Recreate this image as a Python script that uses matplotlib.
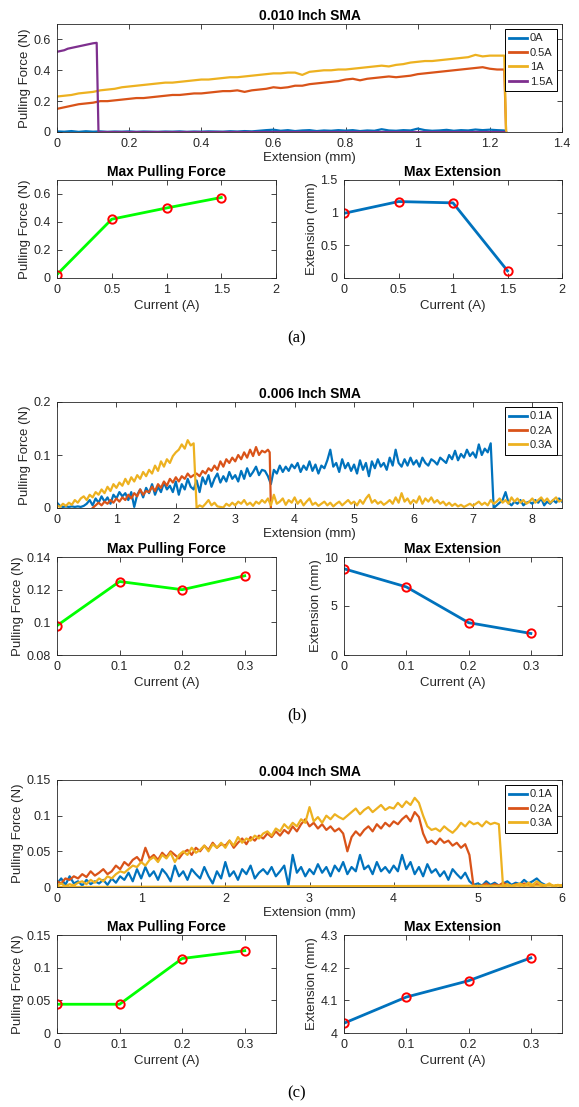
import numpy as np
import matplotlib
matplotlib.use("Agg")
import matplotlib.pyplot as plt
from matplotlib.ticker import FuncFormatter

plt.rcParams["font.family"] = ["Liberation Sans", "DejaVu Sans"]

# ---------------- (a) 0.010 inch SMA ----------------
a_x = np.round(np.arange(0, 1.2401, 0.02), 3)
a_0A = [0.004, 0.002, 0.006, 0.001, 0.005, 0.002, 0.004, 0.001, 0.003, 0.002,
        0.004, 0.001, 0.003, 0.002, 0.001, 0.003, 0.002, 0.004, 0.001, 0.003,
        0.002, 0.004, 0.003, 0.002, 0.005, 0.003, 0.006, 0.004, 0.008, 0.012,
        0.015, 0.008, 0.012, 0.006, 0.010, 0.012, 0.006, 0.010, 0.008, 0.012,
        0.009, 0.012, 0.006, 0.010, 0.008, 0.018, 0.010, 0.008, 0.012, 0.010,
        0.022, 0.012, 0.008, 0.010, 0.014, 0.008, 0.012, 0.010, 0.016, 0.012,
        0.015, 0.012, 0.010]
a_05A = [0.150, 0.160, 0.170, 0.180, 0.185, 0.190, 0.200, 0.200, 0.205, 0.210,
         0.215, 0.220, 0.220, 0.225, 0.230, 0.235, 0.240, 0.240, 0.245, 0.250,
         0.250, 0.255, 0.260, 0.265, 0.265, 0.270, 0.260, 0.270, 0.275, 0.280,
         0.290, 0.285, 0.290, 0.300, 0.300, 0.310, 0.315, 0.320, 0.325, 0.330,
         0.340, 0.345, 0.335, 0.345, 0.350, 0.355, 0.360, 0.355, 0.360, 0.365,
         0.375, 0.380, 0.385, 0.390, 0.395, 0.400, 0.405, 0.410, 0.415, 0.420,
         0.410, 0.405, 0.405]
a_1A = [0.230, 0.235, 0.240, 0.250, 0.255, 0.260, 0.270, 0.275, 0.280, 0.290,
        0.295, 0.300, 0.305, 0.310, 0.315, 0.320, 0.320, 0.325, 0.330, 0.335,
        0.340, 0.340, 0.345, 0.350, 0.355, 0.355, 0.360, 0.365, 0.370, 0.375,
        0.380, 0.380, 0.385, 0.385, 0.370, 0.390, 0.395, 0.400, 0.400, 0.405,
        0.405, 0.410, 0.415, 0.420, 0.425, 0.430, 0.425, 0.435, 0.440, 0.450,
        0.455, 0.460, 0.460, 0.465, 0.470, 0.475, 0.480, 0.485, 0.500, 0.490,
        0.495, 0.495, 0.495]
a_15A_x = [0.0, 0.01, 0.02, 0.03, 0.04, 0.05, 0.06, 0.07, 0.08, 0.09, 0.10, 0.11, 0.115, 1.24]
a_15A = [0.520, 0.525, 0.530, 0.540, 0.545, 0.550, 0.555, 0.560, 0.565, 0.570, 0.575, 0.578, 0.0, 0.0]
a_current = [0, 0.5, 1, 1.5]
a_maxforce = [0.025, 0.42, 0.50, 0.575]
a_maxext = [0.99, 1.17, 1.15, 0.11]
a_labels = ["0A", "0.5A", "1A", "1.5A"]

# ---------------- (b) 0.006 inch SMA ----------------
b_x = np.round(np.arange(0, 8.5001, 0.05), 3)
b_01A = [0.010, 0.004, 0.002, 0.003, 0.002, 0.003, 0.002, 0.003, 0.002, 0.004,
         0.008, 0.015, 0.005, 0.018, 0.010, 0.022, 0.012, 0.020, 0.008, 0.025,
         0.018, 0.030, 0.022, 0.028, 0.015, 0.030, 0.002, 0.025, 0.035, 0.020,
         0.038, 0.028, 0.045, 0.025, 0.040, 0.030, 0.048, 0.035, 0.042, 0.030,
         0.050, 0.025, 0.045, 0.035, 0.055, 0.040, 0.035, 0.052, 0.030, 0.058,
         0.045, 0.062, 0.040, 0.055, 0.065, 0.048, 0.060, 0.050, 0.068, 0.055,
         0.062, 0.050, 0.070, 0.055, 0.075, 0.060, 0.068, 0.078, 0.062, 0.072,
         0.070, 0.060, 0.045, 0.072, 0.065, 0.080, 0.068, 0.078, 0.070, 0.082,
         0.075, 0.085, 0.068, 0.080, 0.072, 0.088, 0.070, 0.082, 0.065, 0.080,
         0.075, 0.090, 0.110, 0.078, 0.085, 0.068, 0.092, 0.075, 0.085, 0.070,
         0.082, 0.065, 0.090, 0.072, 0.085, 0.060, 0.088, 0.075, 0.092, 0.078,
         0.085, 0.072, 0.095, 0.080, 0.110, 0.085, 0.078, 0.092, 0.080, 0.095,
         0.082, 0.090, 0.078, 0.095, 0.085, 0.080, 0.092, 0.088, 0.082, 0.095,
         0.090, 0.085, 0.100, 0.092, 0.108, 0.090, 0.102, 0.095, 0.110, 0.098,
         0.105, 0.095, 0.120, 0.100, 0.112, 0.105, 0.122, 0.000, 0.005, 0.010,
         0.015, 0.030, 0.010, 0.005, 0.012, 0.008, 0.015, 0.005, 0.010, 0.012,
         0.008, 0.015, 0.010, 0.018, 0.005, 0.012, 0.008, 0.015, 0.010, 0.018,
         0.012]
b_02A_x = list(np.round(np.arange(0.60, 3.5501, 0.05), 3)) + [3.58, 3.60]
b_02A = [0.000, 0.005, 0.010, 0.005, 0.012, 0.008, 0.015, 0.010, 0.018, 0.012,
         0.020, 0.015, 0.025, 0.018, 0.028, 0.022, 0.035, 0.025, 0.032, 0.030,
         0.040, 0.032, 0.045, 0.038, 0.050, 0.042, 0.055, 0.048, 0.058, 0.050,
         0.060, 0.055, 0.065, 0.058, 0.062, 0.065, 0.060, 0.070, 0.065, 0.075,
         0.070, 0.080, 0.072, 0.088, 0.078, 0.092, 0.085, 0.095, 0.088, 0.100,
         0.092, 0.105, 0.095, 0.110, 0.098, 0.115, 0.100, 0.108, 0.105, 0.110,
         0.105, 0.000]
b_03A = [0.005, 0.002, 0.008, 0.004, 0.010, 0.006, 0.015, 0.010, 0.018, 0.022,
         0.015, 0.025, 0.020, 0.030, 0.025, 0.035, 0.028, 0.040, 0.032, 0.045,
         0.038, 0.048, 0.042, 0.055, 0.045, 0.058, 0.050, 0.062, 0.055, 0.068,
         0.060, 0.072, 0.065, 0.080, 0.070, 0.088, 0.078, 0.092, 0.085, 0.098,
         0.105, 0.110, 0.120, 0.112, 0.128, 0.118, 0.122, 0.000, 0.005, 0.002,
         0.008, 0.015, 0.005, 0.010, 0.003, 0.002, 0.001, 0.008, 0.004, 0.010,
         0.005, 0.012, 0.008, 0.015, 0.006, 0.010, 0.004, 0.012, 0.008, 0.015,
         0.010, 0.018, 0.005, 0.025, 0.008, 0.012, 0.018, 0.006, 0.015, 0.010,
         0.020, 0.008, 0.015, 0.005, 0.012, 0.018, 0.006, 0.010, 0.004, 0.008,
         0.012, 0.005, 0.010, 0.003, 0.008, 0.012, 0.005, 0.010, 0.015, 0.008,
         0.012, 0.005, 0.015, 0.008, 0.018, 0.025, 0.010, 0.015, 0.008, 0.012,
         0.006, 0.010, 0.015, 0.008, 0.020, 0.010, 0.028, 0.012, 0.018, 0.008,
         0.015, 0.010, 0.022, 0.008, 0.018, 0.012, 0.020, 0.010, 0.015, 0.008,
         0.012, 0.005, 0.010, 0.004, 0.008, 0.003, 0.006, 0.002, 0.005, 0.008,
         0.004, 0.008, 0.012, 0.006, 0.010, 0.005, 0.015, 0.008, 0.012, 0.018,
         0.010, 0.015, 0.008, 0.020, 0.012, 0.018, 0.010, 0.015, 0.008, 0.012,
         0.018, 0.010, 0.015, 0.020, 0.012, 0.018, 0.010, 0.015, 0.020, 0.012,
         0.015]
b_current = [0, 0.1, 0.2, 0.3]
b_maxforce = [0.098, 0.125, 0.120, 0.1285]
b_maxext = [8.8, 6.95, 3.3, 2.2]
b_labels = ["0.1A", "0.2A", "0.3A"]

# ---------------- (c) 0.004 inch SMA ----------------
c_x = np.round(np.arange(0, 6.0001, 0.05), 3)
c_01A = [0.005, 0.012, 0.003, 0.015, 0.005, 0.008, 0.002, 0.010, 0.004, 0.008,
         0.005, 0.010, 0.003, 0.012, 0.006, 0.015, 0.010, 0.020, 0.008, 0.025,
         0.012, 0.028, 0.015, 0.022, 0.010, 0.025, 0.018, 0.008, 0.030, 0.015,
         0.022, 0.010, 0.025, 0.018, 0.012, 0.028, 0.015, 0.005, 0.022, 0.012,
         0.035, 0.015, 0.022, 0.010, 0.025, 0.018, 0.030, 0.012, 0.020, 0.025,
         0.018, 0.028, 0.015, 0.022, 0.030, 0.002, 0.045, 0.020, 0.028, 0.015,
         0.025, 0.018, 0.032, 0.020, 0.028, 0.015, 0.030, 0.022, 0.035, 0.018,
         0.028, 0.022, 0.045, 0.025, 0.030, 0.018, 0.035, 0.022, 0.028, 0.020,
         0.030, 0.022, 0.045, 0.025, 0.035, 0.018, 0.028, 0.015, 0.032, 0.020,
         0.025, 0.015, 0.022, 0.010, 0.025, 0.018, 0.012, 0.020, 0.008, 0.003,
         0.005, 0.002, 0.008, 0.003, 0.006, 0.002, 0.005, 0.008, 0.003, 0.006,
         0.004, 0.010, 0.005, 0.008, 0.012, 0.006, 0.003]
c_02A = [0.008, 0.005, 0.012, 0.010, 0.015, 0.012, 0.018, 0.014, 0.022, 0.016,
         0.020, 0.025, 0.018, 0.022, 0.030, 0.025, 0.035, 0.030, 0.038, 0.042,
         0.035, 0.055, 0.040, 0.045, 0.038, 0.048, 0.042, 0.050, 0.045, 0.040,
         0.048, 0.052, 0.045, 0.055, 0.050, 0.058, 0.052, 0.062, 0.055, 0.060,
         0.058, 0.065, 0.055, 0.062, 0.068, 0.060, 0.070, 0.065, 0.072, 0.068,
         0.075, 0.070, 0.078, 0.072, 0.080, 0.075, 0.085, 0.078, 0.088, 0.095,
         0.085, 0.090, 0.082, 0.088, 0.080, 0.085, 0.078, 0.082, 0.075, 0.050,
         0.070, 0.078, 0.072, 0.080, 0.085, 0.078, 0.088, 0.082, 0.090, 0.085,
         0.092, 0.088, 0.095, 0.100, 0.092, 0.105, 0.098, 0.075, 0.062, 0.065,
         0.060, 0.068, 0.062, 0.065, 0.058, 0.062, 0.055, 0.060, 0.045, 0.000,
         0.000, 0.002, 0.005, 0.001, 0.004, 0.002, 0.006, 0.003, 0.001, 0.004,
         0.002, 0.005, 0.003, 0.001, 0.004, 0.002, 0.001]
c_03A = [0.002, 0.005, 0.001, 0.004, 0.002, 0.006, 0.008, 0.004, 0.010, 0.006,
         0.012, 0.008, 0.015, 0.012, 0.018, 0.022, 0.020, 0.025, 0.030, 0.028,
         0.035, 0.030, 0.038, 0.042, 0.035, 0.045, 0.040, 0.048, 0.035, 0.045,
         0.050, 0.045, 0.055, 0.048, 0.052, 0.058, 0.050, 0.060, 0.055, 0.062,
         0.055, 0.065, 0.058, 0.070, 0.062, 0.068, 0.065, 0.072, 0.068, 0.075,
         0.078, 0.072, 0.082, 0.078, 0.088, 0.082, 0.090, 0.085, 0.095, 0.090,
         0.112, 0.092, 0.098, 0.090, 0.100, 0.095, 0.102, 0.098, 0.095, 0.100,
         0.105, 0.110, 0.102, 0.108, 0.112, 0.105, 0.110, 0.115, 0.108, 0.112,
         0.110, 0.118, 0.112, 0.120, 0.115, 0.125, 0.118, 0.100, 0.085, 0.080,
         0.082, 0.078, 0.085, 0.080, 0.076, 0.082, 0.090, 0.085, 0.092, 0.088,
         0.090, 0.085, 0.092, 0.088, 0.090, 0.088, 0.000, 0.004, 0.001, 0.003,
         0.005, 0.002, 0.006, 0.003, 0.008, 0.004, 0.002, 0.005, 0.001, 0.003,
         0.002]
c_current = [0, 0.1, 0.2, 0.3]
c_maxforce = [0.044, 0.044, 0.114, 0.126]
c_maxext = [4.03, 4.11, 4.16, 4.23]
c_labels = ["0.1A", "0.2A", "0.3A"]

# ---------------- figure layout ----------------
W, H = 579, 1107
fig = plt.figure(figsize=(W / 100, H / 100), dpi=100)
fig.patch.set_facecolor("white")

BLUE, ORANGE, YELLOW, PURPLE = "#0072BD", "#D95319", "#EDB120", "#7E2F8E"
INK = "#262626"
TICK_FS, LABEL_FS, TITLE_FS = 9.0, 9.5, 10.0
fmt = FuncFormatter(lambda v, p: f"{v:g}")


def axes_px(x0, y0, x1, y1):
    return fig.add_axes([x0 / W, 1 - y1 / H, (x1 - x0) / W, (y1 - y0) / H])


def style(ax, xlim, xticks, ylim, yticks):
    ax.set_xlim(*xlim)
    ax.set_ylim(*ylim)
    ax.set_xticks(xticks)
    ax.set_yticks(yticks)
    ax.xaxis.set_major_formatter(fmt)
    ax.yaxis.set_major_formatter(fmt)
    ax.tick_params(direction="in", top=True, right=True, length=3.5, width=0.6,
                   colors=INK, labelsize=TICK_FS, pad=4.5)
    for s in ax.spines.values():
        s.set_color(INK)
        s.set_linewidth(0.6)


def legend(ax, labels_):
    leg = ax.legend(labels_, loc="upper right", fontsize=8, frameon=True,
                    fancybox=False, edgecolor="black", framealpha=1,
                    handlelength=1.6, handletextpad=0.25, borderpad=0.4,
                    labelspacing=0.4, borderaxespad=0.45)
    leg.get_frame().set_linewidth(0.7)
    for ln in leg.get_lines():
        ln.set_linewidth(2.0)
    for t in leg.get_texts():
        t.set_color(INK)


def small_pair(top, bot, cur, force, ext, xlim, xticks, fylim, fyticks, eylim, eyticks):
    axf = axes_px(57, top, 276, bot)
    axf.plot(cur, force, color="#00FF00", lw=2.0)
    axf.plot(cur, force, "o", mfc="none", mec="red", mew=1.4, ms=6)
    style(axf, xlim, xticks, fylim, fyticks)
    axf.set_title("Max Pulling Force", fontsize=TITLE_FS, fontweight="bold", pad=3, color="black")
    axf.set_ylabel("Pulling Force (N)", fontsize=LABEL_FS, color=INK, labelpad=1.5)
    axf.set_xlabel("Current (A)", fontsize=LABEL_FS, color=INK, labelpad=3)

    axe = axes_px(344, top, 562, bot)
    axe.plot(cur, ext, color=BLUE, lw=2.0)
    axe.plot(cur, ext, "o", mfc="none", mec="red", mew=1.4, ms=6)
    style(axe, xlim, xticks, eylim, eyticks)
    axe.set_title("Max Extension", fontsize=TITLE_FS, fontweight="bold", pad=3, color="black")
    axe.set_ylabel("Extension (mm)", fontsize=LABEL_FS, color=INK, labelpad=1.5)
    axe.set_xlabel("Current (A)", fontsize=LABEL_FS, color=INK, labelpad=3)


def top_plot(top, bot, title, xlim, xticks, ylim, yticks):
    ax = axes_px(57, top, 562, bot)
    style(ax, xlim, xticks, ylim, yticks)
    ax.set_title(title, fontsize=TITLE_FS, fontweight="bold", pad=3, color="black")
    ax.set_ylabel("Pulling Force (N)", fontsize=LABEL_FS, color=INK, labelpad=1.5)
    ax.set_xlabel("Extension (mm)", fontsize=LABEL_FS, color=INK, labelpad=1.5)
    return ax


def panel_tag(y, tag):
    fig.text(297 / W, 1 - y / H, tag, ha="center", va="center", fontsize=12,
             family=["Liberation Serif", "DejaVu Serif"])


# (a)
ax = top_plot(24, 132, "0.010 Inch SMA", (0, 1.4), np.arange(0, 1.41, 0.2), (0, 0.7), [0, 0.2, 0.4, 0.6])
ax.plot(list(a_x) + [1.245], a_0A + [0.0], color=BLUE, lw=1.6)
ax.plot(list(a_x) + [1.245], a_05A + [0.0], color=ORANGE, lw=1.6)
ax.plot(list(a_x) + [1.245], a_1A + [0.0], color=YELLOW, lw=1.6)
ax.plot(a_15A_x, a_15A, color=PURPLE, lw=1.6)
legend(ax, a_labels)
small_pair(180, 278, a_current, a_maxforce, a_maxext, (0, 2), [0, 0.5, 1, 1.5, 2],
           (0, 0.7), [0, 0.2, 0.4, 0.6], (0, 1.5), [0, 0.5, 1, 1.5])
panel_tag(338, "(a)")

# (b)
ax = top_plot(402, 508, "0.006 Inch SMA", (0, 8.5), range(0, 9), (0, 0.2), [0, 0.1, 0.2])
ax.plot(b_x, b_01A, color=BLUE, lw=1.6)
ax.plot(b_02A_x, b_02A, color=ORANGE, lw=1.6)
ax.plot(b_x, b_03A, color=YELLOW, lw=1.6)
legend(ax, b_labels)
small_pair(557, 655, b_current, b_maxforce, b_maxext, (0, 0.35), [0, 0.1, 0.2, 0.3],
           (0.08, 0.14), [0.08, 0.1, 0.12, 0.14], (0, 10), [0, 5, 10])
panel_tag(715, "(b)")

# (c)
ax = top_plot(780, 887, "0.004 Inch SMA", (0, 6), range(0, 7), (0, 0.15), [0, 0.05, 0.1, 0.15])
ax.plot(c_x[:len(c_01A)], c_01A, color=BLUE, lw=1.6)
ax.plot(c_x[:len(c_02A)], c_02A, color=ORANGE, lw=1.6)
# the 0.3 A trace returns along the zero line after unloading
ax.plot(list(c_x) + [0.0], c_03A + [0.0], color=YELLOW, lw=1.6)
legend(ax, c_labels)
small_pair(935, 1033, c_current, c_maxforce, c_maxext, (0, 0.35), [0, 0.1, 0.2, 0.3],
           (0, 0.15), [0, 0.05, 0.1, 0.15], (4, 4.3), [4, 4.1, 4.2, 4.3])
panel_tag(1093, "(c)")

fig.savefig("out.png", dpi=100, facecolor="white")
